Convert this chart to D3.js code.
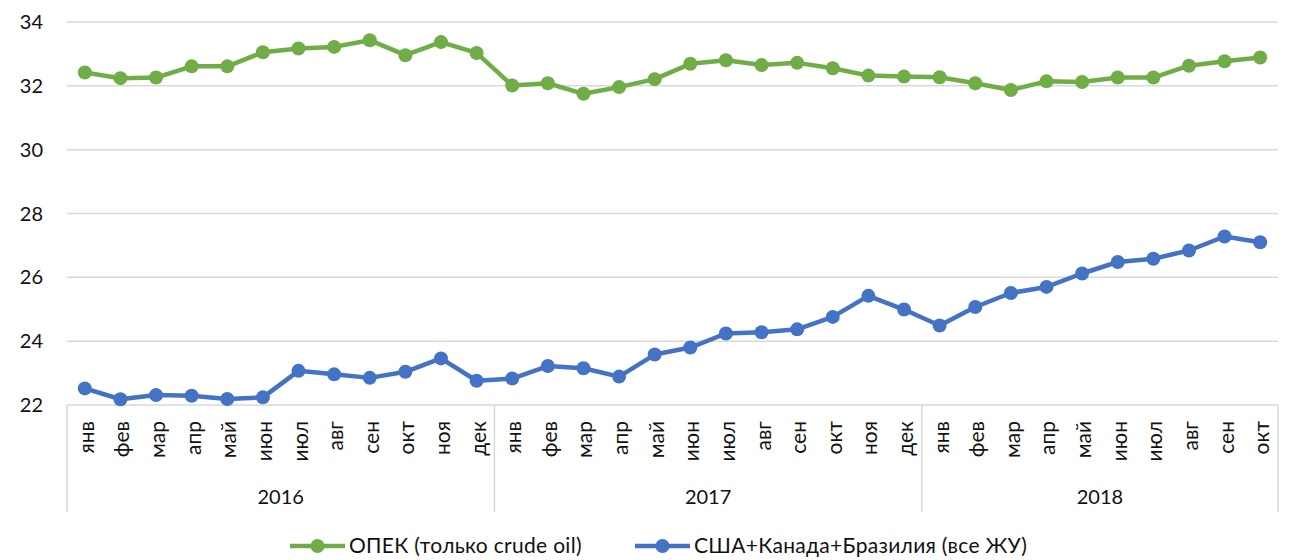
<!DOCTYPE html>
<html>
<head>
<meta charset="utf-8">
<script src="https://cdn.jsdelivr.net/npm/d3@7"></script>
<style>
  html, body { margin: 0; padding: 0; background: #fff; }
  svg { display: block; }
  text { font-family: Lato, "Noto Sans", sans-serif; fill: #111; }
</style>
</head>
<body>
<svg id="chart" width="1291" height="560"></svg>
<script>
const months = ["янв","фев","мар","апр","май","июн","июл","авг","сен","окт","ноя","дек"];
const years = ["2016","2017","2018"];
const monthsPerYear = [12, 12, 10];
const yTicks = [22, 24, 26, 28, 30, 32, 34];

const opec = [32.42, 32.24, 32.26, 32.61, 32.61, 33.05, 33.17, 33.22, 33.43, 32.96, 33.37, 33.03,
              32.01, 32.08, 31.75, 31.96, 32.21, 32.69, 32.80, 32.65, 32.72, 32.55, 32.32, 32.29,
              32.27, 32.08, 31.87, 32.14, 32.12, 32.26, 32.26, 32.63, 32.77, 32.89];
const usa  = [22.52, 22.18, 22.31, 22.29, 22.19, 22.24, 23.07, 22.96, 22.85, 23.04, 23.46, 22.76,
              22.83, 23.22, 23.15, 22.89, 23.58, 23.80, 24.24, 24.28, 24.37, 24.76, 25.42, 24.99,
              24.49, 25.07, 25.51, 25.70, 26.12, 26.48, 26.58, 26.84, 27.28, 27.10];
const seriesNames = ["ОПЕК (только crude oil)", "США+Канада+Бразилия (все ЖУ)"];
const colors = ["#70AD47", "#4472C4"];

(function () {
const cats = [];
years.forEach((yr, yi) => {
  for (let m = 0; m < monthsPerYear[yi]; m++) cats.push({ key: yr + "-" + m, month: months[m], year: yr });
});

const svg = d3.select("#chart");
const pLeft = 67, pRight = 1278, pTop = 22, pBottom = 405;

const x = d3.scaleBand().domain(cats.map(c => c.key)).range([pLeft, pRight]).padding(0);
const y = d3.scaleLinear().domain([22, 34]).range([pBottom, pTop]);
const cx = k => x(k) + x.bandwidth() / 2;

// gridlines
svg.append("g").selectAll("line").data(yTicks).join("line")
  .attr("x1", pLeft).attr("x2", pRight)
  .attr("y1", d => y(d)).attr("y2", d => y(d))
  .attr("stroke", "#d9d9d9").attr("stroke-width", 1.5);

// y labels
svg.append("g").selectAll("text").data(yTicks).join("text")
  .attr("x", 43).attr("y", d => y(d)).attr("dy", "0.35em")
  .attr("text-anchor", "end").attr("font-size", 20)
  .text(d => d);

// category axis boxes
const axisBottom = 512;
let idx = 0;
const sepX = [pLeft];
years.forEach((yr, yi) => {
  idx += monthsPerYear[yi];
  const lastKey = cats[idx - 1].key;
  sepX.push(x(lastKey) + x.bandwidth());
});
svg.append("g").selectAll("line").data(sepX).join("line")
  .attr("x1", d => d).attr("x2", d => d)
  .attr("y1", pBottom).attr("y2", axisBottom)
  .attr("stroke", "#d9d9d9").attr("stroke-width", 1.5);

// month labels
svg.append("g").selectAll("text").data(cats).join("text")
  .attr("transform", d => `translate(${cx(d.key) + 9},421) rotate(-90)`)
  .attr("text-anchor", "end").attr("font-size", 21)
  .text(d => d.month);

// year labels
svg.append("g").selectAll("text").data(years).join("text")
  .attr("x", (d, i) => (sepX[i] + sepX[i + 1]) / 2)
  .attr("y", 497).attr("dy", "0.35em")
  .attr("text-anchor", "middle").attr("font-size", 20)
  .text(d => d);

// series
const line = d3.line().x((d, i) => cx(cats[i].key)).y(d => y(d));
[opec, usa].forEach((s, si) => {
  const g = svg.append("g");
  g.append("path").datum(s).attr("d", line)
    .attr("fill", "none").attr("stroke", colors[si]).attr("stroke-width", 4.5)
    .attr("stroke-linejoin", "round");
  g.selectAll("circle").data(s).join("circle")
    .attr("cx", (d, i) => cx(cats[i].key)).attr("cy", d => y(d))
    .attr("r", 7).attr("fill", colors[si]);
});

// legend
const legend = [
  { x1: 290, x2: 345, tx: 349 },
  { x1: 635, x2: 690, tx: 694 }
];
const ly = 546;
legend.forEach((l, i) => {
  const g = svg.append("g");
  g.append("line").attr("x1", l.x1).attr("x2", l.x2).attr("y1", ly).attr("y2", ly)
    .attr("stroke", colors[i]).attr("stroke-width", 4.5);
  g.append("circle").attr("cx", (l.x1 + l.x2) / 2).attr("cy", ly).attr("r", 7).attr("fill", colors[i]);
  g.append("text").attr("x", l.tx).attr("y", ly).attr("dy", "0.35em").attr("font-size", 21)
    .attr("letter-spacing", 0.3)
    .text(seriesNames[i]);
});
})();
</script>
</body>
</html>
